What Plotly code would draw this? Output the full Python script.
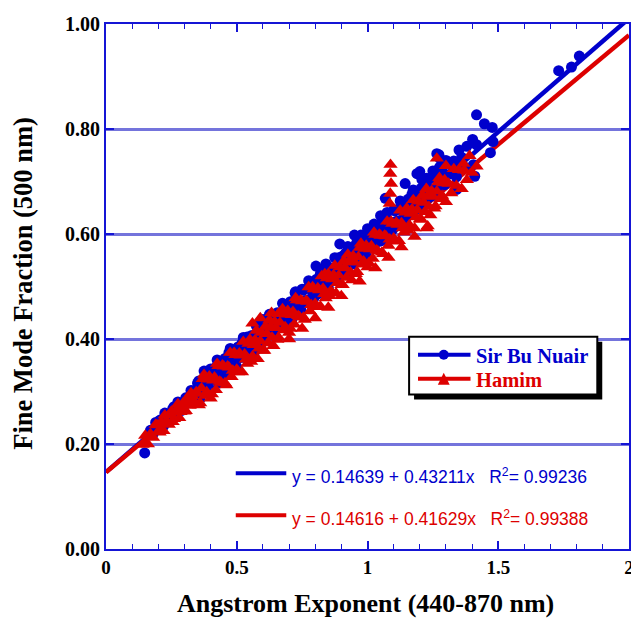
import plotly.graph_objects as go

# ---------------- data ----------------
# Sir Bu Nuair (blue circles)
sbn_x_a = [0.148, 0.17, 0.18, 0.19, 0.20, 0.21, 0.22, 0.23, 0.24, 0.25, 0.26, 0.27, 0.28, 0.29, 0.30,
           0.31, 0.32, 0.33, 0.34, 0.35, 0.36, 0.37, 0.38, 0.39, 0.40, 0.41, 0.42, 0.43, 0.44, 0.45,
           0.46, 0.47, 0.48, 0.49, 0.50, 0.51, 0.52, 0.53, 0.54, 0.55, 0.56, 0.57, 0.58, 0.59, 0.60,
           0.61, 0.62, 0.63, 0.64, 0.65, 0.66, 0.67, 0.68, 0.69, 0.70, 0.71, 0.72, 0.73, 0.74, 0.75,
           0.76, 0.77, 0.78, 0.79, 0.80, 0.81, 0.82, 0.83, 0.84, 0.85, 0.86, 0.87, 0.88, 0.89, 0.90,
           0.91, 0.92, 0.93, 0.94, 0.95, 0.96, 0.97, 0.98, 0.99, 1.00, 1.01, 1.02, 1.03, 1.04, 1.05,
           1.06, 1.07, 1.08, 1.09, 1.10, 1.11, 1.12, 1.13, 1.14, 1.15, 1.16, 1.17, 1.18, 1.19, 1.20,
           1.21, 1.22, 1.23, 1.24, 1.25, 1.26, 1.27, 1.28, 1.29, 1.30, 1.31, 1.32, 1.33, 1.34, 1.35,
           1.36, 1.37, 1.38,
           0.52, 0.60, 0.723, 0.803, 0.841, 0.894, 0.917, 0.95, 1.00, 1.05, 1.068, 1.144, 1.189,
           1.20, 1.208, 1.25, 1.265, 1.273, 1.277, 1.30, 1.34, 1.341, 1.35, 1.402, 1.405, 1.41,
           1.417, 1.417, 1.447, 1.47, 1.477, 1.48, 1.731, 1.78, 1.81]
sbn_y_a = [0.183, 0.226, 0.219, 0.241, 0.232, 0.246, 0.234, 0.249, 0.256, 0.249, 0.271, 0.262, 0.276, 0.264, 0.279,
           0.286, 0.280, 0.301, 0.292, 0.316, 0.286, 0.312, 0.323, 0.305, 0.343, 0.322, 0.346, 0.316, 0.343, 0.353,
           0.335, 0.374, 0.352, 0.376, 0.347, 0.373, 0.383, 0.365, 0.404, 0.382, 0.406, 0.377, 0.403, 0.413, 0.396,
           0.434, 0.412, 0.437, 0.407, 0.433, 0.444, 0.426, 0.464, 0.443, 0.467, 0.437, 0.464, 0.474, 0.456, 0.495,
           0.473, 0.497, 0.467, 0.494, 0.504, 0.486, 0.525, 0.503, 0.527, 0.498, 0.524, 0.534, 0.517, 0.555, 0.533,
           0.558, 0.528, 0.554, 0.565, 0.547, 0.585, 0.564, 0.588, 0.558, 0.585, 0.595, 0.577, 0.616, 0.594, 0.618,
           0.588, 0.615, 0.625, 0.607, 0.646, 0.624, 0.648, 0.619, 0.645, 0.655, 0.638, 0.676, 0.654, 0.679, 0.649,
           0.675, 0.686, 0.668, 0.706, 0.685, 0.709, 0.679, 0.706, 0.716, 0.698, 0.737, 0.715, 0.739, 0.709, 0.736,
           0.746, 0.728, 0.767,
           0.392, 0.437, 0.488, 0.539, 0.543, 0.581, 0.564, 0.598, 0.610, 0.635, 0.668, 0.696, 0.715,
           0.719, 0.704, 0.720, 0.753, 0.751, 0.744, 0.740, 0.687, 0.685, 0.760, 0.780, 0.732, 0.710,
           0.827, 0.770, 0.810, 0.755, 0.803, 0.776, 0.911, 0.918, 0.939]
sbn_x_b = [0.205, 0.215, 0.225, 0.235, 0.245, 0.255, 0.265, 0.275, 0.285, 0.295, 0.305, 0.315, 0.325, 0.335, 0.345,
           0.355, 0.365, 0.375, 0.385, 0.395, 0.405, 0.415, 0.425, 0.435, 0.445, 0.455, 0.465, 0.475, 0.485, 0.495,
           0.505, 0.515, 0.525, 0.535, 0.545, 0.555, 0.565, 0.575, 0.585, 0.595, 0.605, 0.615, 0.625, 0.635, 0.645,
           0.655, 0.665, 0.675, 0.685, 0.695, 0.705, 0.715, 0.725, 0.735, 0.745, 0.755, 0.765, 0.775, 0.785, 0.795,
           0.805, 0.815, 0.825, 0.835, 0.845, 0.855, 0.865, 0.875, 0.885, 0.895, 0.905, 0.915, 0.925, 0.935, 0.945,
           0.955, 0.965, 0.975, 0.985, 0.995, 1.005, 1.015, 1.025, 1.035, 1.045, 1.055, 1.065, 1.075, 1.085, 1.095,
           1.105, 1.115, 1.125, 1.135, 1.145, 1.155, 1.165, 1.175, 1.185, 1.195, 1.205, 1.215, 1.225, 1.235, 1.245,
           1.255, 1.265, 1.275, 1.285, 1.295]
sbn_y_b = [0.245, 0.237, 0.259, 0.252, 0.246, 0.267, 0.259, 0.280, 0.274, 0.268, 0.288, 0.281, 0.302, 0.295, 0.290,
           0.320, 0.300, 0.339, 0.321, 0.305, 0.341, 0.322, 0.360, 0.342, 0.327, 0.363, 0.343, 0.382, 0.364, 0.348,
           0.385, 0.365, 0.403, 0.386, 0.370, 0.406, 0.387, 0.425, 0.407, 0.392, 0.428, 0.408, 0.447, 0.429, 0.413,
           0.450, 0.430, 0.468, 0.450, 0.435, 0.471, 0.451, 0.490, 0.472, 0.456, 0.493, 0.473, 0.511, 0.494, 0.478,
           0.514, 0.495, 0.533, 0.515, 0.500, 0.536, 0.516, 0.555, 0.537, 0.521, 0.558, 0.538, 0.576, 0.559, 0.543,
           0.579, 0.559, 0.598, 0.580, 0.564, 0.601, 0.581, 0.619, 0.602, 0.586, 0.622, 0.603, 0.641, 0.623, 0.608,
           0.644, 0.624, 0.663, 0.645, 0.629, 0.666, 0.646, 0.684, 0.666, 0.651, 0.687, 0.667, 0.706, 0.688, 0.672,
           0.709, 0.689, 0.727, 0.710, 0.694]

# Hamim (red triangles)
ham_x_a = [0.14, 0.15, 0.16, 0.17, 0.18, 0.19, 0.20, 0.21, 0.22, 0.23, 0.24, 0.25, 0.26, 0.27, 0.28,
           0.29, 0.30, 0.31, 0.32, 0.33, 0.34, 0.35, 0.36, 0.37, 0.38, 0.39, 0.40, 0.41, 0.42, 0.43,
           0.44, 0.45, 0.46, 0.47, 0.48, 0.49, 0.50, 0.51, 0.52, 0.53, 0.54, 0.55, 0.56, 0.57, 0.58,
           0.59, 0.60, 0.61, 0.62, 0.63, 0.64, 0.65, 0.66, 0.67, 0.68, 0.69, 0.70, 0.71, 0.72, 0.73,
           0.74, 0.75, 0.76, 0.77, 0.78, 0.79, 0.80, 0.81, 0.82, 0.83, 0.84, 0.85, 0.86, 0.87, 0.88,
           0.89, 0.90, 0.91, 0.92, 0.93, 0.94, 0.95, 0.96, 0.97, 0.98, 0.99, 1.00, 1.01, 1.02, 1.03,
           1.04, 1.05, 1.06, 1.07, 1.08, 1.09, 1.10, 1.11, 1.12, 1.13, 1.14, 1.15, 1.16, 1.17, 1.18,
           1.19, 1.20, 1.21, 1.22, 1.23, 1.24, 1.25, 1.26, 1.27, 1.28, 1.29, 1.30, 1.31, 1.32, 1.33,
           1.34, 1.35, 1.36, 1.37, 1.38, 1.39, 1.40,
           0.56, 0.59, 0.633, 0.659, 0.837, 1.085, 1.087, 1.087, 1.088, 1.09, 1.227, 1.265, 1.30, 1.367, 1.417,
           0.70, 0.75, 0.80, 0.85, 0.90, 0.97, 1.03, 1.08, 1.13, 1.18, 1.23]
ham_y_a = [0.199, 0.216, 0.200, 0.219, 0.212, 0.237, 0.224, 0.241, 0.225, 0.244, 0.237, 0.262, 0.248, 0.266, 0.250,
           0.269, 0.262, 0.287, 0.273, 0.291, 0.275, 0.296, 0.278, 0.324, 0.292, 0.323, 0.287, 0.321, 0.303, 0.349,
           0.317, 0.348, 0.312, 0.346, 0.328, 0.374, 0.342, 0.373, 0.337, 0.371, 0.353, 0.399, 0.367, 0.398, 0.362,
           0.396, 0.378, 0.424, 0.392, 0.423, 0.387, 0.421, 0.403, 0.449, 0.417, 0.447, 0.412, 0.446, 0.428, 0.474,
           0.442, 0.472, 0.437, 0.471, 0.453, 0.499, 0.467, 0.497, 0.462, 0.496, 0.478, 0.524, 0.492, 0.522, 0.487,
           0.521, 0.503, 0.549, 0.517, 0.547, 0.512, 0.546, 0.528, 0.574, 0.542, 0.572, 0.537, 0.571, 0.553, 0.599,
           0.567, 0.597, 0.562, 0.596, 0.578, 0.624, 0.592, 0.622, 0.587, 0.621, 0.603, 0.649, 0.617, 0.647, 0.611,
           0.646, 0.628, 0.674, 0.642, 0.672, 0.636, 0.671, 0.653, 0.699, 0.667, 0.697, 0.661, 0.696, 0.678, 0.724,
           0.692, 0.722, 0.686, 0.721, 0.703, 0.749, 0.717,
           0.430, 0.440, 0.450, 0.448, 0.524, 0.658, 0.677, 0.715, 0.732, 0.696, 0.611, 0.744, 0.730, 0.734, 0.729,
           0.400, 0.420, 0.440, 0.460, 0.482, 0.510, 0.535, 0.555, 0.575, 0.595, 0.615]
ham_x_b = [0.195, 0.205, 0.215, 0.225, 0.235, 0.245, 0.255, 0.265, 0.275, 0.285, 0.295, 0.305, 0.315, 0.325, 0.335,
           0.345, 0.355, 0.365, 0.375, 0.385, 0.395, 0.405, 0.415, 0.425, 0.435, 0.445, 0.455, 0.465, 0.475, 0.485,
           0.495, 0.505, 0.515, 0.525, 0.535, 0.545, 0.555, 0.565, 0.575, 0.585, 0.595, 0.605, 0.615, 0.625, 0.635,
           0.645, 0.655, 0.665, 0.675, 0.685, 0.695, 0.705, 0.715, 0.725, 0.735, 0.745, 0.755, 0.765, 0.775, 0.785,
           0.795, 0.805, 0.815, 0.825, 0.835, 0.845, 0.855, 0.865, 0.875, 0.885, 0.895, 0.905, 0.915, 0.925, 0.935,
           0.945, 0.955, 0.965, 0.975, 0.985, 0.995, 1.005, 1.015, 1.025, 1.035, 1.045, 1.055, 1.065, 1.075, 1.085,
           1.095, 1.105, 1.115, 1.125, 1.135, 1.145, 1.155, 1.165, 1.175, 1.185, 1.195, 1.205, 1.215, 1.225, 1.235,
           1.245, 1.255, 1.265, 1.275, 1.285, 1.295]
ham_y_b = [0.236, 0.222, 0.240, 0.255, 0.240, 0.257, 0.242, 0.261, 0.276, 0.261, 0.278, 0.263, 0.281, 0.297, 0.282,
           0.299, 0.274, 0.306, 0.332, 0.299, 0.329, 0.295, 0.327, 0.353, 0.319, 0.350, 0.316, 0.348, 0.374, 0.340,
           0.370, 0.337, 0.369, 0.395, 0.361, 0.391, 0.357, 0.389, 0.416, 0.382, 0.412, 0.378, 0.410, 0.436, 0.403,
           0.433, 0.399, 0.431, 0.457, 0.423, 0.454, 0.420, 0.452, 0.478, 0.444, 0.474, 0.441, 0.473, 0.499, 0.465,
           0.495, 0.461, 0.493, 0.520, 0.486, 0.516, 0.482, 0.514, 0.540, 0.507, 0.537, 0.503, 0.535, 0.561, 0.527,
           0.558, 0.524, 0.556, 0.582, 0.548, 0.578, 0.545, 0.577, 0.603, 0.569, 0.599, 0.565, 0.597, 0.624, 0.590,
           0.620, 0.586, 0.618, 0.645, 0.611, 0.641, 0.607, 0.639, 0.665, 0.632, 0.662, 0.628, 0.660, 0.686, 0.652,
           0.682, 0.649, 0.681, 0.707, 0.673, 0.703]

fit_names = ["Sir Bu Nuair", "Hamim"]
fit_intercepts = [0.14639, 0.14616]
fit_slopes = [0.43211, 0.41629]
fit_r2 = [0.99236, 0.99388]
fit_x = [0.0, 2.0]

y_ticks = [0.0, 0.2, 0.4, 0.6, 0.8, 1.0]
y_ticklabels = ["0.00", "0.20", "0.40", "0.60", "0.80", "1.00"]
x_ticks = [0, 0.5, 1, 1.5, 2]
x_ticklabels = ["0", "0.5", "1", "1.5", "2"]

x_title = "Angstrom Exponent (440-870 nm)"
y_title = "Fine Mode Fraction (500 nm)"

# ---------------- styling ----------------
BLUE = "#0000CC"
RED = "#DD0000"
AXIS = "#1515D5"
GRID = "#7474DC"
SERIF = "Liberation Serif"
SANS = "Liberation Sans"

OFF = 8                      # page offset of the figure (body margin)
W, H = 639 - OFF, 621 - OFF
PL, PR, PT, PB = 106, 634, 22, 549   # plot area edges in page pixels
L, T = PL - OFF, PT - OFF
R = W + OFF - PR
B = H + OFF - PB
PW, PH = PR - PL, PB - PT


def px(xp):
    return (xp - PL) / PW


def py(yp):
    return (PB - yp) / PH


fig = go.Figure()

colors = [BLUE, RED]
for i in range(2):
    fy = [fit_intercepts[i] + fit_slopes[i] * xv for xv in fit_x]
    fig.add_trace(go.Scatter(x=fit_x, y=fy, mode="lines",
                             line=dict(color=colors[i], width=4.5),
                             showlegend=False, hoverinfo="skip"))

fig.add_trace(go.Scatter(x=sbn_x_a + sbn_x_b, y=sbn_y_a + sbn_y_b, mode="markers", name=fit_names[0],
                         marker=dict(symbol="circle", size=11, color=BLUE, line=dict(width=0)),
                         showlegend=False))
fig.add_trace(go.Scatter(x=ham_x_a + ham_x_b, y=ham_y_a + ham_y_b, mode="markers", name=fit_names[1],
                         marker=dict(symbol="triangle-up", size=12.5, color=RED, line=dict(width=0)),
                         showlegend=False))

shapes = []
annotations = []

# legend box with shadow
shapes.append(dict(type="rect", xref="paper", yref="paper", x0=px(417), x1=px(607), y0=py(399), y1=py(341),
                   fillcolor="black", line=dict(width=0), layer="above"))
shapes.append(dict(type="rect", xref="paper", yref="paper", x0=px(412), x1=px(602), y0=py(394), y1=py(336),
                   fillcolor="white", line=dict(color="black", width=2), layer="above"))
legend_rows = [354, 378]
for i, yy in enumerate(legend_rows):
    shapes.append(dict(type="line", xref="paper", yref="paper", x0=px(421), x1=px(474), y0=py(yy), y1=py(yy),
                       line=dict(color=colors[i], width=4), layer="above"))
    annotations.append(dict(xref="paper", yref="paper", x=px(478), y=py(yy + 1), xanchor="left", yanchor="middle",
                            text="<b>%s</b>" % fit_names[i], showarrow=False,
                            font=dict(family=SERIF, size=20.5, color=colors[i])))
shapes.append(dict(type="circle", xref="paper", yref="paper", x0=px(442), x1=px(452), y0=py(359), y1=py(349),
                   fillcolor=BLUE, line=dict(width=0), layer="above"))
tri = "M %f %f L %f %f L %f %f Z" % (px(441), py(384), px(453), py(384), px(447), py(372))
shapes.append(dict(type="path", xref="paper", yref="paper", path=tri, fillcolor=RED,
                   line=dict(width=0), layer="above"))

# regression equations
eq_rows = [473, 515]
for i, yy in enumerate(eq_rows):
    shapes.append(dict(type="line", xref="paper", yref="paper", x0=px(237), x1=px(288), y0=py(yy), y1=py(yy),
                       line=dict(color=colors[i], width=4), layer="above"))
    txt = "y = %.5f + %.5fx   R<sup>2</sup>= %.5f" % (fit_intercepts[i], fit_slopes[i], fit_r2[i])
    annotations.append(dict(xref="paper", yref="paper", x=px(292), y=py(yy + 3), xanchor="left", yanchor="middle",
                            text=txt, showarrow=False,
                            font=dict(family=SANS, size=17.5, color=colors[i])))

# axis titles
annotations.append(dict(xref="paper", yref="paper", x=px(368), y=py(604), xanchor="center", yanchor="middle",
                        text="<b>%s</b>" % x_title, showarrow=False,
                        font=dict(family=SERIF, size=26, color="black")))
annotations.append(dict(xref="paper", yref="paper", x=px(22), y=py(282), xanchor="center", yanchor="middle",
                        text="<b>%s</b>" % y_title, showarrow=False, textangle=-90,
                        font=dict(family=SERIF, size=26.5, color="black")))

fig.update_layout(
    width=W, height=H,
    margin=dict(l=L, r=R, t=T, b=B, pad=0),
    paper_bgcolor="white", plot_bgcolor="white",
    showlegend=False,
    shapes=shapes, annotations=annotations,
    xaxis=dict(range=[0, 2], tickvals=x_ticks, ticktext=x_ticklabels,
               showgrid=False, zeroline=False,
               showline=True, linecolor=AXIS, linewidth=2, mirror="ticks",
               ticks="inside", ticklen=8, tickwidth=1.5, tickcolor=AXIS,
               minor=dict(dtick=0.1, ticks="inside", ticklen=5, tickwidth=1, tickcolor=AXIS),
               tickfont=dict(family=SERIF, size=19, color="black", weight="bold")),
    yaxis=dict(range=[0, 1], tickvals=y_ticks, ticktext=y_ticklabels,
               showgrid=True, gridcolor=GRID, gridwidth=2.5, zeroline=False,
               showline=True, linecolor=AXIS, linewidth=2, mirror="ticks",
               ticks="inside", ticklen=8, tickwidth=1.5, tickcolor=AXIS,
               tickfont=dict(family=SERIF, size=20, color="black", weight="bold")),
)

fig.write_html("out.html")
